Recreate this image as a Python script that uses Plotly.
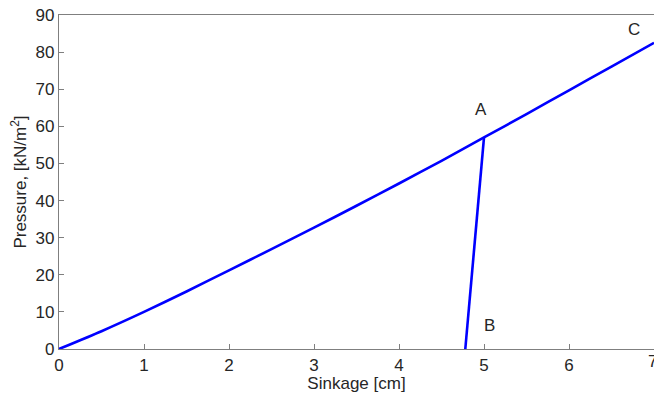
import plotly.graph_objects as go

# Loading curve (sinkage in cm, pressure in kN/m^2)
sinkage = [0, 0.5, 1, 1.5, 2, 2.5, 3, 3.5, 4, 4.5, 5, 5.5, 6, 6.5, 7]
pressure = [0, 4.8, 10, 15.5, 21.2, 26.9, 32.7, 38.6, 44.6, 50.7, 57, 63.3, 69.7, 76.1, 82.5]

# Unloading branch from A down to B
unload_sinkage = [5.0, 4.78]
unload_pressure = [57, 0]

# Point labels
label_text = ["A", "B", "C"]
label_x = [4.96, 5.06, 6.76]
label_y = [64.5, 6.2, 86.0]

x_ticks = [0, 1, 2, 3, 4, 5, 6]
y_ticks = [0, 10, 20, 30, 40, 50, 60, 70, 80, 90]

font = dict(family="Liberation Sans, Arial, sans-serif", size=17, color="#262626")
line_style = dict(color="#0000ff", width=2.6)

fig = go.Figure()
fig.add_trace(go.Scatter(x=sinkage, y=pressure, mode="lines",
                         line=dict(line_style, shape="spline", smoothing=0.6),
                         showlegend=False, hoverinfo="skip"))
fig.add_trace(go.Scatter(x=unload_sinkage, y=unload_pressure, mode="lines", line=line_style,
                         showlegend=False, hoverinfo="skip"))

for t, x, y in zip(label_text, label_x, label_y):
    fig.add_annotation(x=x, y=y, text=t, showarrow=False, font=font,
                       xref="x", yref="y")

# last x tick label, cut off by the right edge of the figure
fig.add_annotation(x=1, y=0, xref="paper", yref="paper", text="7",
                   showarrow=False, font=font, xanchor="left", xshift=-8,
                   yanchor="top", yshift=-1)

fig.update_layout(
    width=654, height=394,
    margin=dict(l=59, r=0, t=15, b=45),
    paper_bgcolor="white", plot_bgcolor="white",
    font=font,
    xaxis=dict(
        range=[0, 7], tickvals=x_ticks, showgrid=False, zeroline=False,
        showline=True, linecolor="#7f7f7f", linewidth=1.2, mirror=True,
        ticks="inside", ticklen=5, tickcolor="#7f7f7f",
        title=dict(text="Sinkage [cm]", font=font, standoff=2),
    ),
    yaxis=dict(
        range=[0, 90], tickvals=y_ticks, showgrid=False, zeroline=False,
        showline=True, linecolor="#7f7f7f", linewidth=1.2,
        ticks="inside", ticklen=5, tickcolor="#7f7f7f",
        title=dict(text="Pressure, [kN/m<sup>2</sup>]", font=font, standoff=4),
    ),
)

fig.write_html("out.html")
